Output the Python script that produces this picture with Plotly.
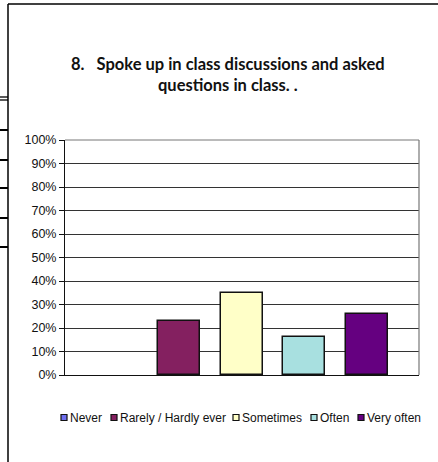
import plotly.graph_objects as go

# data
categories = ["Never", "Rarely / Hardly ever", "Sometimes", "Often", "Very often"]
values = [0, 23, 35, 16, 26]
colors = ["#6f6ff0", "#842060", "#ffffc8", "#a8e0e0", "#650080"]
y_ticks = list(range(0, 101, 10))

W, H = 438, 462
L, R, T, B = 65, 19, 140, 87
PW, PH = W - L - R, H - T - B


def px(x):
    return (x - L) / PW


def py(y):
    return (H - B - y) / PH


fig = go.Figure()
for i, (cat, val, col) in enumerate(zip(categories, values, colors)):
    fig.add_trace(go.Bar(
        x=[i], y=[val], name=cat, width=0.67,
        marker=dict(color=col, line=dict(color="#111", width=1.5 if val else 0)),
        showlegend=False,
    ))

# hand-made legend (plotly's own legend is too wide for this space)
leg_x = [61, 111, 233, 311, 358]
for cat, col, lx in zip(categories, colors, leg_x):
    fig.add_shape(type="rect", xref="paper", yref="paper",
                  x0=px(lx), x1=px(lx + 6), y0=py(420.5), y1=py(414.5),
                  fillcolor=col, line=dict(color="#111", width=1.2))
    fig.add_annotation(x=px(lx + 6.5), y=py(417.5), xref="paper", yref="paper",
                       text=cat, showarrow=False, xanchor="left", yanchor="middle",
                       font=dict(family="Liberation Sans, Arial", size=12, color="#111"))

# title
fig.add_annotation(
    x=px(228), y=py(74), xref="paper", yref="paper", showarrow=False,
    text="<b>8.   Spoke up in class discussions and asked<br>questions in class. .</b>",
    font=dict(family="Lato, Open Sans", size=16.5, color="#111"),
    xanchor="center", yanchor="middle", align="center",
)

# plot area border (top and right in grey)
fig.add_shape(type="line", xref="paper", yref="paper", x0=0, x1=1, y0=1, y1=1,
              line=dict(color="#777", width=1))
fig.add_shape(type="line", xref="paper", yref="paper", x0=1, x1=1, y0=0, y1=1,
              line=dict(color="#777", width=1.2))

# outer chart frame
fig.add_shape(type="line", xref="paper", yref="paper", x0=px(8), x1=px(W + 5),
              y0=py(4), y1=py(4), line=dict(color="#000", width=1.5))
fig.add_shape(type="line", xref="paper", yref="paper", x0=px(8), x1=px(8),
              y0=py(4), y1=py(H + 5), line=dict(color="#000", width=1.5))

# stray table rules at the left edge
for yy in [97, 100, 130, 160, 188, 218, 247]:
    fig.add_shape(type="line", xref="paper", yref="paper", x0=px(0), x1=px(8),
                  y0=py(yy), y1=py(yy), line=dict(color="#000", width=2 if yy > 100 else 1.3))

fig.update_layout(
    width=W, height=H,
    margin=dict(l=L, r=R, t=T, b=B),
    paper_bgcolor="white", plot_bgcolor="white",
    bargap=0,
    xaxis=dict(range=[-0.82, 4.83], showticklabels=False, ticks="",
               showgrid=False, zeroline=False, showline=True,
               linecolor="#111", linewidth=1),
    yaxis=dict(range=[0, 100], tickvals=y_ticks, ticktext=[f"{v}%" for v in y_ticks],
               ticks="outside", ticklen=5, tickcolor="#111", ticklabelstandoff=0,
               showgrid=True, gridcolor="#333", gridwidth=1,
               zeroline=False, showline=True, linecolor="#111", linewidth=1,
               tickfont=dict(family="Liberation Sans, Arial", size=12.5, color="#111")),
    showlegend=False,
)

fig.write_html("out.html", config={"displayModeBar": False},
               post_script="document.body.style.margin='0';")
